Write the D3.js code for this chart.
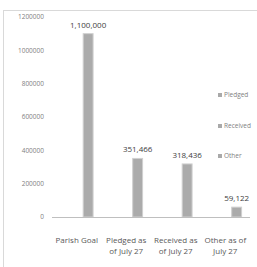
<!DOCTYPE html>
<meta charset="utf-8">
<style>
body { margin: 0; background: #fff; }
text { font-family: "Open Sans", "Liberation Sans", sans-serif; }
</style>
<body>
<script src="https://d3js.org/d3.v7.min.js"></script>
<script>

// data
var categories = ["Parish Goal", "Pledged as\nof July 27", "Received as\nof July 27", "Other as of\nJuly 27"];
var values = [1100000, 351466, 318436, 59122];
var legendNames = ["Pledged", "Received", "Other"];
var yTicks = [0, 200000, 400000, 600000, 800000, 1000000, 1200000];

var W = 257, H = 267;

var svg = d3.select("body").append("svg")
    .attr("width", W)
    .attr("height", H);

// chart border
svg.append("rect")
    .attr("x", 3.5).attr("y", 10.5)
    .attr("width", 260).attr("height", 270)
    .attr("fill", "none")
    .attr("stroke", "#d9d9d9");

var y = d3.scaleLinear().domain([0, 1200000]).range([217, 17]);
var x = d3.scaleBand().domain(categories).range([52, 250]).padding(0);

// y axis labels (no line)
svg.append("g").selectAll("text")
    .data(yTicks)
    .enter().append("text")
    .attr("x", 44)
    .attr("y", function(d) { return y(d); })
    .attr("dy", "0.35em")
    .attr("text-anchor", "end")
    .attr("font-size", 6.5)
    .attr("fill", "#7f7f7f")
    .text(function(d) { return d; });

// bars
var bw = x.bandwidth();
svg.selectAll(".bar")
    .data(values)
    .enter().append("rect")
    .attr("class", "bar")
    .attr("x", function(d, i) { return x(categories[i]) + bw * 0.63; })
    .attr("width", bw * 0.2)
    .attr("y", function(d) { return y(d); })
    .attr("height", function(d) { return y(0) - y(d); })
    .attr("fill", "#ababab")
    .attr("stroke", "#d0d0d0")
    .attr("stroke-width", 1);

// baseline
svg.append("line")
    .attr("x1", 52).attr("x2", 250)
    .attr("y1", y(0) + 0.5).attr("y2", y(0) + 0.5)
    .attr("stroke", "#bfbfbf");

// data labels
svg.selectAll(".lbl")
    .data(values)
    .enter().append("text")
    .attr("x", function(d, i) { return x(categories[i]) + bw * 0.73; })
    .attr("y", function(d) { return y(d) - 6; })
    .attr("text-anchor", "middle")
    .attr("font-size", 8)
    .attr("fill", "#404040")
    .text(function(d) { return d3.format(",")(d); });

// category labels
var cat = svg.selectAll(".cat")
    .data(categories)
    .enter().append("text")
    .attr("x", function(d) { return x(d) + bw / 2; })
    .attr("y", 243)
    .attr("text-anchor", "middle")
    .attr("font-size", 8)
    .attr("fill", "#595959");
cat.selectAll("tspan")
    .data(function(d) { return d.split("\n"); })
    .enter().append("tspan")
    .attr("x", function() { return d3.select(this.parentNode).attr("x"); })
    .attr("dy", function(d, i) { return i ? 11 : 0; })
    .text(function(d) { return d; });

// legend
var legend = svg.selectAll(".leg")
    .data(legendNames)
    .enter().append("g")
    .attr("transform", function(d, i) { return "translate(218," + [95, 126, 156][i] + ")"; });
legend.append("rect")
    .attr("x", 0).attr("y", -2)
    .attr("width", 4).attr("height", 4)
    .attr("fill", "#a9a9a9");
legend.append("text")
    .attr("x", 6)
    .attr("dy", "0.35em")
    .attr("font-size", 6.5)
    .attr("fill", "#7f7f7f")
    .text(function(d) { return d; });

</script>
</body>
